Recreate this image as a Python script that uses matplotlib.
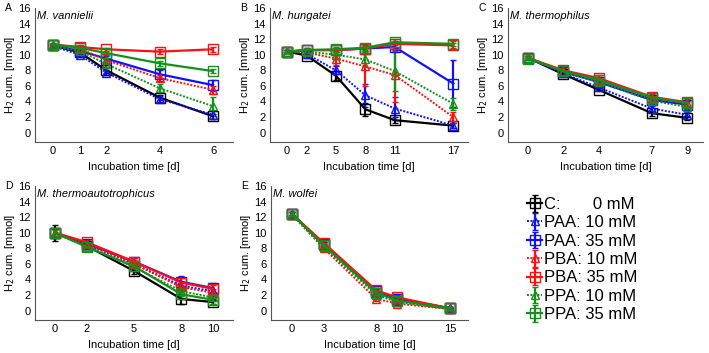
import matplotlib
matplotlib.use("Agg")
import matplotlib.pyplot as plt

plt.rcParams['font.family'] = ['Liberation Sans', 'DejaVu Sans']

# tratamientos (orden de la leyenda)
labels = ["C:       0 mM", "PAA: 10 mM", "PAA: 35 mM", "PBA: 10 mM",
          "PBA: 35 mM", "PPA: 10 mM", "PPA: 35 mM"]
colores = ["black", "#1010ff", "#1010ff", "#ff1010", "#ff1010", "#12921a", "#12921a"]
estilos = ["-", (0, (1, 0.8)), "-", (0, (1, 0.8)), "-", (0, (1, 0.8)), "-"]
marcas = ["s", "^", "s", "^", "s", "^", "s"]

# A: M. vannielii
a_dias = [0, 1, 2, 4, 6]
a_h2 = [
    [11.2, 10.3, 8.0, 4.5, 2.1],
    [11.1, 10.0, 7.7, 4.3, 2.3],
    [11.2, 10.5, 9.5, 7.5, 6.1],
    [11.2, 10.8, 9.3, 7.0, 5.5],
    [11.3, 11.0, 10.7, 10.4, 10.7],
    [11.1, 10.5, 8.8, 5.7, 3.4],
    [11.3, 10.9, 10.2, 8.9, 7.9],
]
a_err = [
    [0.2, 0.3, 0.3, 0.3, 0.3],
    [0.2, 0.3, 0.3, 0.4, 0.5],
    [0.2, 0.3, 0.3, 0.5, 0.7],
    [0.2, 0.3, 0.3, 0.4, 0.5],
    [0.2, 0.3, 0.2, 0.3, 0.3],
    [0.2, 0.3, 0.4, 0.5, 1.2],
    [0.2, 0.3, 0.2, 0.3, 0.3],
]

# B: M. hungatei
b_dias = [0, 2, 5, 8, 11, 17]
b_h2 = [
    [10.4, 9.9, 7.3, 3.0, 1.6, 0.9],
    [10.4, 10.1, 8.0, 4.8, 3.1, 0.9],
    [10.4, 10.6, 10.6, 10.8, 11.0, 6.3],
    [10.4, 10.3, 9.5, 8.5, 7.4, 2.0],
    [10.4, 10.6, 10.6, 10.8, 11.4, 11.2],
    [10.4, 10.4, 10.0, 9.4, 7.9, 3.7],
    [10.4, 10.6, 10.7, 10.9, 11.6, 11.4],
]
b_err = [
    [0.2, 0.3, 0.6, 0.8, 0.4, 0.3],
    [0.2, 0.3, 0.5, 1.5, 1.5, 0.3],
    [0.2, 0.3, 0.3, 0.3, 0.4, 3.0],
    [0.2, 0.3, 0.8, 2.5, 3.5, 0.7],
    [0.2, 0.3, 0.3, 0.3, 0.4, 0.3],
    [0.2, 0.3, 0.5, 1.0, 2.6, 0.8],
    [0.2, 0.3, 0.3, 0.3, 0.4, 0.3],
]

# C: M. thermophilus
c_dias = [0, 2, 4, 7, 9]
c_h2 = [
    [9.6, 7.5, 5.5, 2.5, 1.9],
    [9.6, 7.6, 5.8, 3.1, 2.3],
    [9.6, 7.8, 6.5, 4.2, 3.6],
    [9.6, 7.9, 6.8, 4.4, 3.8],
    [9.6, 8.0, 7.0, 4.6, 3.9],
    [9.6, 7.8, 6.5, 4.1, 3.3],
    [9.5, 7.9, 6.8, 4.5, 3.8],
]
c_err = [
    [0.2, 0.2, 0.2, 0.3, 0.3],
    [0.2, 0.2, 0.3, 0.3, 0.3],
    [0.2, 0.3, 0.4, 0.5, 0.5],
    [0.2, 0.3, 0.4, 0.5, 0.5],
    [0.2, 0.3, 0.4, 0.5, 0.5],
    [0.2, 0.3, 0.4, 0.6, 0.6],
    [0.2, 0.3, 0.4, 0.6, 0.6],
]

# D: M. thermoautotrophicus
d_dias = [0, 2, 5, 8, 10]
d_h2 = [
    [10.0, 8.3, 5.1, 1.5, 1.1],
    [10.0, 8.5, 6.0, 3.2, 2.5],
    [10.0, 8.6, 6.3, 3.7, 2.9],
    [10.0, 8.6, 6.0, 3.0, 2.3],
    [10.0, 8.8, 6.3, 3.6, 2.8],
    [9.9, 8.2, 5.6, 2.5, 1.7],
    [10.0, 8.2, 5.7, 2.1, 1.4],
]
d_err = [
    [1.0, 0.3, 0.4, 0.7, 0.3],
    [0.5, 0.3, 0.8, 1.3, 1.0],
    [0.5, 0.3, 0.5, 0.6, 0.5],
    [0.5, 0.3, 0.5, 0.6, 0.5],
    [0.5, 0.3, 0.5, 0.6, 0.5],
    [0.5, 0.3, 0.5, 0.6, 0.5],
    [0.5, 0.3, 0.5, 0.6, 0.5],
]

# E: M. wolfei
e_dias = [0, 3, 8, 10, 15]
e_h2 = [
    [12.4, 8.5, 2.5, 1.5, 0.3],
    [12.4, 8.3, 2.2, 1.3, 0.3],
    [12.4, 8.5, 2.5, 1.5, 0.3],
    [12.3, 8.0, 1.5, 0.9, 0.2],
    [12.4, 8.7, 2.6, 1.7, 0.3],
    [12.3, 8.2, 2.0, 1.1, 0.2],
    [12.4, 8.4, 2.3, 1.3, 0.3],
]
e_err = [
    [0.3, 0.3, 0.3, 0.3, 0.2],
    [0.3, 0.3, 0.3, 0.3, 0.2],
    [0.3, 0.3, 0.3, 0.3, 0.2],
    [0.3, 0.3, 0.3, 0.3, 0.2],
    [0.3, 0.3, 0.3, 0.3, 0.2],
    [0.3, 0.3, 0.3, 0.3, 0.2],
    [0.3, 0.3, 0.3, 0.3, 0.2],
]

W, H = 709, 353
fig = plt.figure(figsize=(W / 100, H / 100), dpi=100)


def caja(x0, x1, y0, y1):
    # px -> fracciones de figura
    return [x0 / W, 1 - y1 / H, (x1 - x0) / W, (y1 - y0) / H]


paneles = [
    ("A", "M. vannielii", a_dias, a_h2, a_err, caja(35, 233, 8, 142), (-0.68, 6.75)),
    ("B", "M. hungatei", b_dias, b_h2, b_err, caja(270, 468, 8, 142), (-1.75, 18.5)),
    ("C", "M. thermophilus", c_dias, c_h2, c_err, caja(508, 703, 8, 142), (-1.13, 9.9)),
    ("D", "M. thermoautotrophicus", d_dias, d_h2, d_err, caja(35, 233, 186, 320), (-1.27, 11.27)),
    ("E", "M. wolfei", e_dias, e_h2, e_err, caja(271, 468, 186, 320), (-2.0, 16.7)),
]

for letra, especie, dias, h2, err, pos, xl in paneles:
    ax = fig.add_axes(pos)
    for i in range(len(labels)):
        ax.errorbar(dias, h2[i], yerr=err[i], color=colores[i], ls=estilos[i],
                    lw=1.6 if estilos[i] == "-" else 1.4,
                    marker=marcas[i], ms=6.5 if marcas[i] == "s" else 5.5,
                    mfc="none", mec=colores[i], mew=1.0,
                    elinewidth=1.6, capsize=2, capthick=1.0, label=labels[i])
    ax.set_xlim(*xl)
    ax.set_ylim(-1.2, 16)
    ax.set_xticks(dias)
    ax.set_yticks(range(0, 17, 2))
    for s in ["top", "right"]:
        ax.spines[s].set_visible(False)
    for s in ["left", "bottom"]:
        ax.spines[s].set_color("#555555")
        ax.spines[s].set_linewidth(0.8)
    ax.tick_params(length=0, labelsize=8, pad=3)
    ax.set_xlabel("Incubation time [d]", fontsize=8, labelpad=4)
    ax.set_ylabel("H$_2$ cum. [mmol]", fontsize=8, labelpad=1)
    ax.text(0.01, 0.98, especie, transform=ax.transAxes, fontsize=8,
            style="italic", va="top", ha="left")
    ax.text(-0.15, 1.0, letra, transform=ax.transAxes, fontsize=7.5,
            va="center", ha="left")

h, l = ax.get_legend_handles_labels()
fig.legend(h, l, loc="upper left", bbox_to_anchor=(527 / W, 1 - 197 / H),
           frameon=False, fontsize=12, handlelength=0.9, handletextpad=0.15,
           labelspacing=0.2, borderpad=0, borderaxespad=0)

fig.savefig("out.png", dpi=100)
